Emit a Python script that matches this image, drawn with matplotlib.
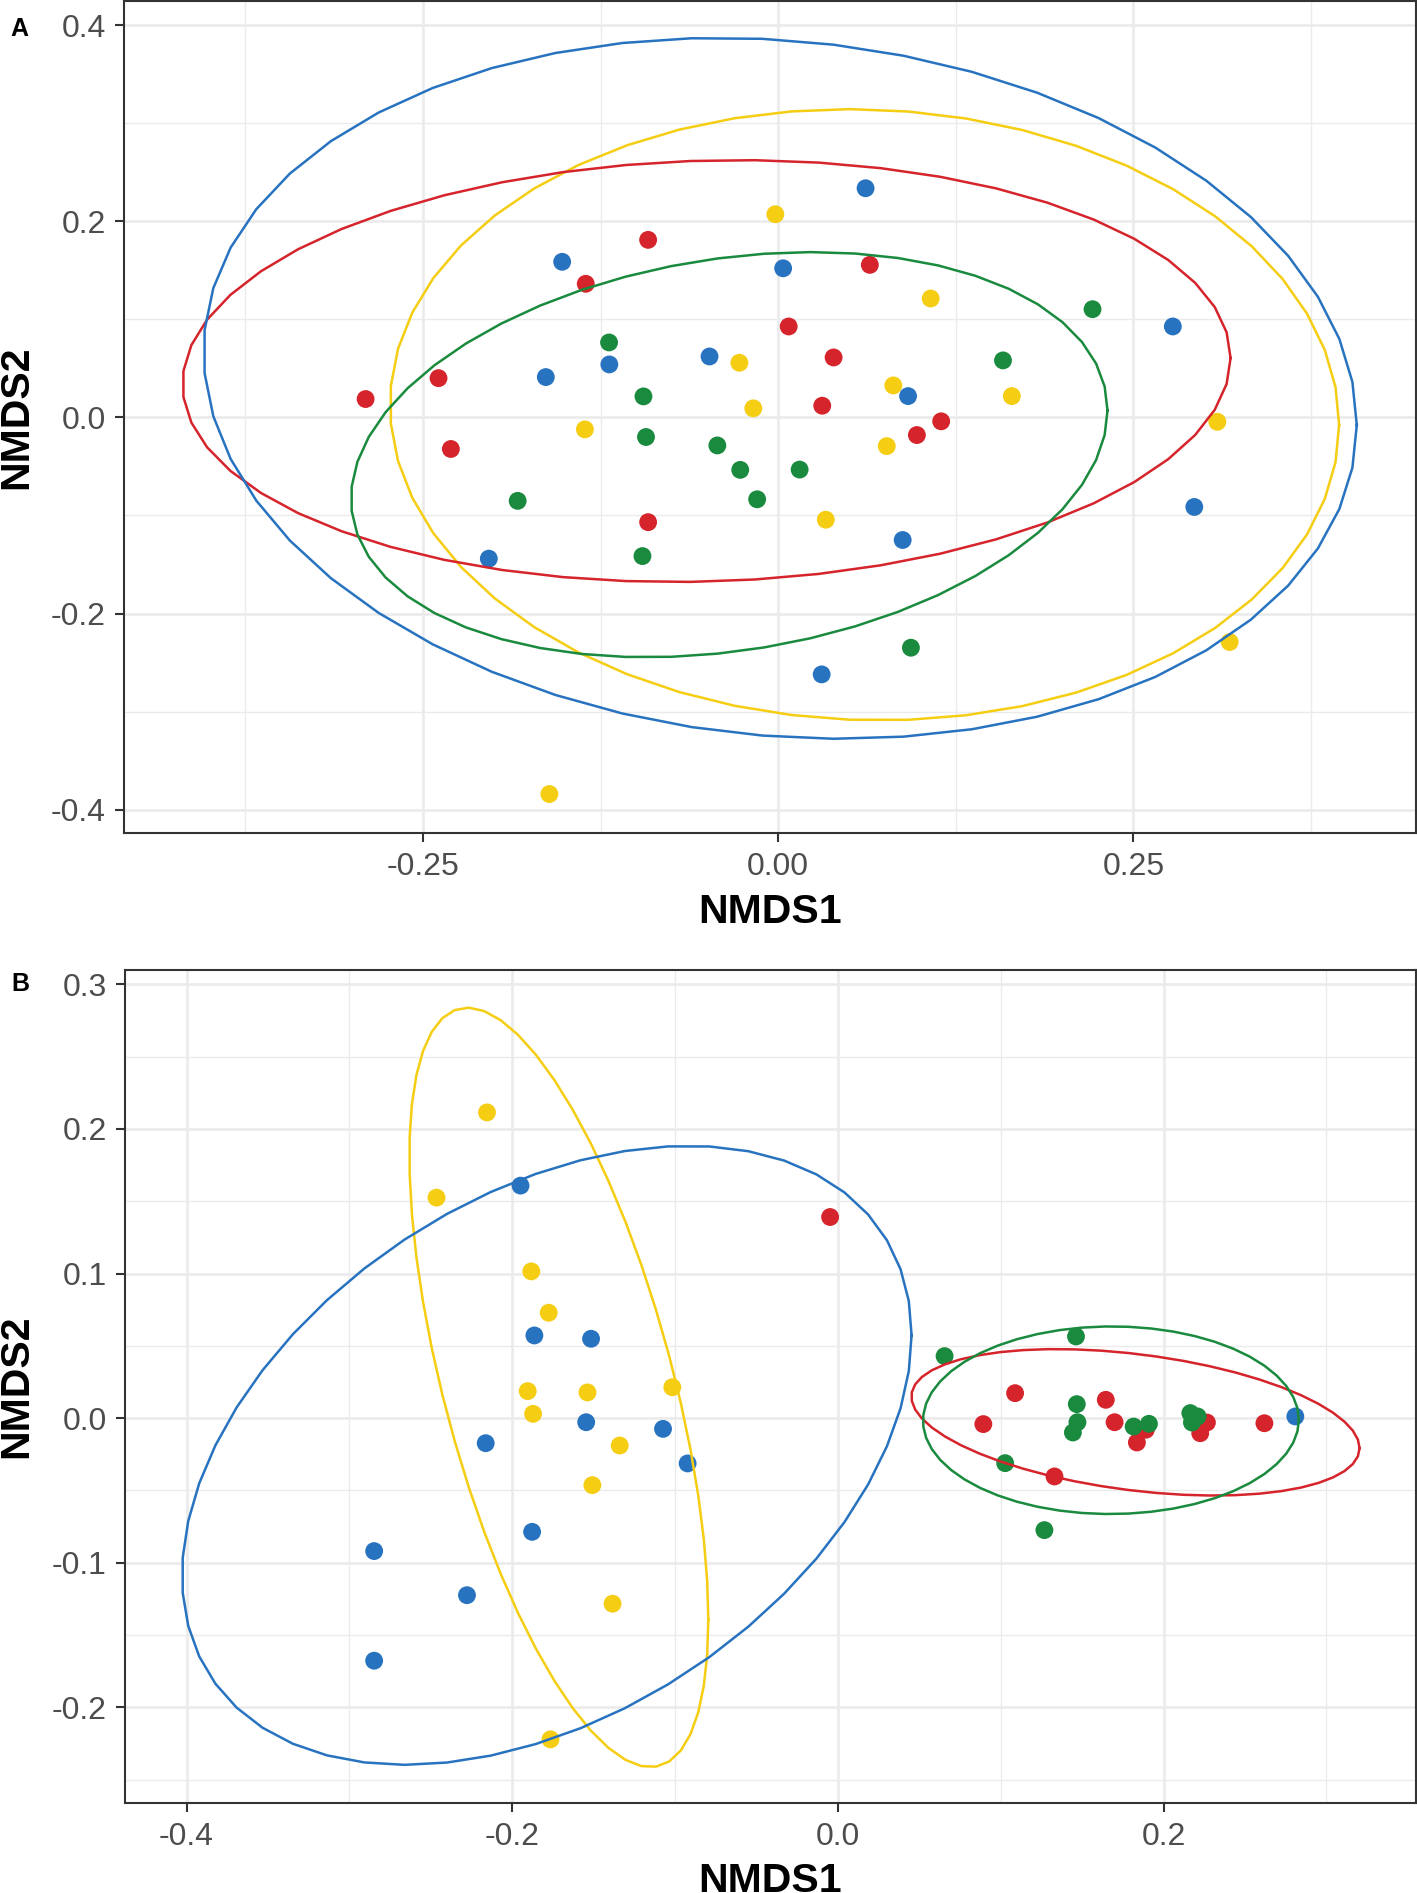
import numpy as np
import matplotlib
matplotlib.use("Agg")
import matplotlib.pyplot as plt
from matplotlib.ticker import FixedLocator

plt.rcParams['font.family'] = ['Liberation Sans', 'DejaVu Sans']

W, H = 1417, 1893

# ---------------- data: panel A ----------------
A_blue_x = [0.0615, -0.152, 0.0035, 0.2777, -0.0483, -0.1188, -0.1635, 0.0914, 0.2928, 0.0876, -0.2036, 0.0306]
A_blue_y = [0.2336, 0.1586, 0.152, 0.0927, 0.0621, 0.054, 0.0411, 0.0217, -0.0913, -0.125, -0.144, -0.262]
A_red_x = [-0.0915, 0.0645, -0.1354, 0.0074, 0.039, -0.239, -0.2903, 0.031, 0.1147, 0.0976, -0.2303, -0.0915]
A_red_y = [0.181, 0.1555, 0.1362, 0.0927, 0.0611, 0.04, 0.0187, 0.0119, -0.004, -0.018, -0.0322, -0.1068]
A_yellow_x = [-0.002, 0.1073, -0.0273, 0.081, 0.1644, -0.0175, -0.136, 0.309, 0.0764, 0.0335, 0.3177, -0.161]
A_yellow_y = [0.2071, 0.1212, 0.0557, 0.0326, 0.0217, 0.0092, -0.0122, -0.0045, -0.0293, -0.1043, -0.229, -0.384]
A_green_x = [0.2212, -0.119, 0.1582, -0.0948, -0.093, -0.0428, -0.0267, 0.0151, -0.0148, -0.1833, -0.0955, 0.0934]
A_green_y = [0.1103, 0.0764, 0.0581, 0.0214, -0.020, -0.0286, -0.0535, -0.0532, -0.0835, -0.0851, -0.1414, -0.2348]

# ---------------- data: panel B ----------------
B_blue_x = [-0.1949, -0.1864, -0.1516, -0.1546, -0.1074, -0.2163, -0.0923, -0.1878, -0.2848, -0.2278, -0.2848, 0.2809]
B_blue_y = [0.1608, 0.0572, 0.0549, -0.0028, -0.0074, -0.0173, -0.0313, -0.0786, -0.0919, -0.1224, -0.1677, 0.0012]
# last red point lies hidden beneath the green cluster near (0.22, 0.00)
B_red_x = [-0.0048, 0.1088, 0.0893, 0.133, 0.1645, 0.1699, 0.1891, 0.1836, 0.2266, 0.2225, 0.2619, 0.2190]
B_red_y = [0.1391, 0.0173, -0.0041, -0.0403, 0.0127, -0.0028, -0.008, -0.0168, -0.003, -0.0104, -0.0035, 0.0000]
B_yellow_x = [-0.2155, -0.2465, -0.1883, -0.1776, -0.1905, -0.1538, -0.1017, -0.1872, -0.134, -0.1508, -0.1384, -0.1765]
B_yellow_y = [0.2114, 0.1525, 0.1015, 0.0729, 0.0187, 0.0178, 0.0214, 0.003, -0.0189, -0.0463, -0.1283, -0.2221]
B_green_x = [0.1462, 0.0655, 0.1027, 0.1467, 0.1471, 0.1443, 0.1816, 0.191, 0.2164, 0.2209, 0.2174, 0.1268]
B_green_y = [0.0565, 0.0429, -0.0311, 0.0097, -0.0028, -0.0099, -0.0058, -0.0039, 0.0035, 0.0012, -0.003, -0.0774]

colors = {'blue': '#2873C0', 'red': '#D5242B', 'yellow': '#F5CD12', 'green': '#1A8A3E'}

A_xticks = [-0.25, 0.0, 0.25]
A_xticklabels = ['-0.25', '0.00', '0.25']
A_xminor = [-0.375, -0.125, 0.125, 0.375]
A_yticks = [-0.4, -0.2, 0.0, 0.2, 0.4]
A_yticklabels = ['-0.4', '-0.2', '0.0', '0.2', '0.4']
A_yminor = [-0.3, -0.1, 0.1, 0.3]

B_xticks = [-0.4, -0.2, 0.0, 0.2]
B_xticklabels = ['-0.4', '-0.2', '0.0', '0.2']
B_xminor = [-0.3, -0.1, 0.1, 0.3]
B_yticks = [-0.2, -0.1, 0.0, 0.1, 0.2, 0.3]
B_yticklabels = ['-0.2', '-0.1', '0.0', '0.1', '0.2', '0.3']
B_yminor = [-0.25, -0.15, -0.05, 0.05, 0.15, 0.25]


def cov_trob(x, nu=5, maxit=25, tol=0.01):
    n, p = x.shape
    wt = np.ones(n)
    loc = (wt[:, None] * x).sum(0) / wt.sum()
    w = np.sqrt(wt)
    X = x - loc
    for _ in range(maxit):
        w0 = w
        X = x - loc
        A = np.sqrt(w / w.sum())[:, None] * X
        _, d, Vt = np.linalg.svd(A, full_matrices=False)
        wX = X @ Vt.T @ np.diag(1.0 / d)
        Q = (wX ** 2).sum(1)
        w = (wt * (nu + p)) / (nu + Q)
        loc = (w[:, None] * x).sum(0) / w.sum()
        if np.all(np.abs(w - w0) < tol):
            break
    sw = np.sqrt(w)[:, None] * X
    cov = sw.T @ sw / wt.sum()
    return cov, loc


def stat_ellipse(xs, ys, level=0.95, segments=51):
    x = np.column_stack([xs, ys])
    cov, center = cov_trob(x)
    n = len(xs)
    dfn, dfd = 2, n - 1
    qf = dfd / dfn * ((1 - level) ** (-dfn / dfd) - 1)
    radius = np.sqrt(dfn * qf)
    ang = np.arange(segments + 1) * 2 * np.pi / segments
    unit = np.column_stack([np.cos(ang), np.sin(ang)])
    R = np.linalg.cholesky(cov).T
    e = center + radius * unit @ R
    return e[:, 0], e[:, 1]


fig = plt.figure(figsize=(W / 100, H / 100), dpi=100)


def make_axes(l, t, r, b):
    return fig.add_axes([l / W, 1 - b / H, (r - l) / W, (b - t) / H])


def style(ax, xt, xtl, xm, yt, ytl, ym, xlim, ylim):
    ax.set_xlim(*xlim)
    ax.set_ylim(*ylim)
    ax.set_xticks(xt)
    ax.set_xticklabels(xtl)
    ax.set_yticks(yt)
    ax.set_yticklabels(ytl)
    ax.xaxis.set_minor_locator(FixedLocator(xm))
    ax.yaxis.set_minor_locator(FixedLocator(ym))
    ax.grid(which='major', color='#EBEBEB', linewidth=1.9, zorder=0)
    ax.grid(which='minor', color='#EBEBEB', linewidth=0.95, zorder=0)
    ax.set_axisbelow(True)
    for s in ax.spines.values():
        s.set_color('#333333')
        s.set_linewidth(1.5)
    ax.tick_params(which='major', length=6.5, width=1.5, color='#333333',
                   labelcolor='#4D4D4D', labelsize=23)
    ax.tick_params(axis='x', which='major', pad=7.5)
    ax.tick_params(axis='y', which='major', pad=6.5)
    ax.tick_params(which='minor', length=0)


def draw(ax, groups):
    for key, xs, ys in groups:
        ax.scatter(xs, ys, s=165, color=colors[key], edgecolors='none', zorder=3)
    for key, xs, ys in groups:
        ex, ey = stat_ellipse(np.array(xs), np.array(ys))
        ax.plot(ex, ey, color=colors[key], linewidth=1.8, zorder=4)


axA = make_axes(124, 1, 1416, 833)
style(axA, A_xticks, A_xticklabels, A_xminor, A_yticks, A_yticklabels, A_yminor,
      (-0.4603, 0.4488), (-0.4237, 0.4245))
draw(axA, [('yellow', A_yellow_x, A_yellow_y), ('red', A_red_x, A_red_y),
           ('green', A_green_x, A_green_y), ('blue', A_blue_x, A_blue_y)])

axB = make_axes(125, 970, 1416, 1803)
style(axB, B_xticks, B_xticklabels, B_xminor, B_yticks, B_yticklabels, B_yminor,
      (-0.4378, 0.355), (-0.2661, 0.3099))
draw(axB, [('yellow', B_yellow_x, B_yellow_y), ('red', B_red_x, B_red_y),
           ('green', B_green_x, B_green_y), ('blue', B_blue_x, B_blue_y)])


def ftext(x, y, s, **kw):
    fig.text(x / W, 1 - y / H, s, **kw)


ftext(770, 923, 'NMDS1', ha='center', va='baseline', fontsize=29.5, fontweight='bold')
ftext(770, 1892, 'NMDS1', ha='center', va='baseline', fontsize=29.5, fontweight='bold')
ftext(16, 417, 'NMDS2', ha='center', va='center', rotation=90, fontsize=29.5, fontweight='bold')
ftext(16, 1386, 'NMDS2', ha='center', va='center', rotation=90, fontsize=29.5, fontweight='bold')
ftext(19, 36, 'A', ha='center', va='baseline', fontsize=18, fontweight='bold')
ftext(20, 991, 'B', ha='center', va='baseline', fontsize=18, fontweight='bold')

fig.savefig('out.png', dpi=100)
